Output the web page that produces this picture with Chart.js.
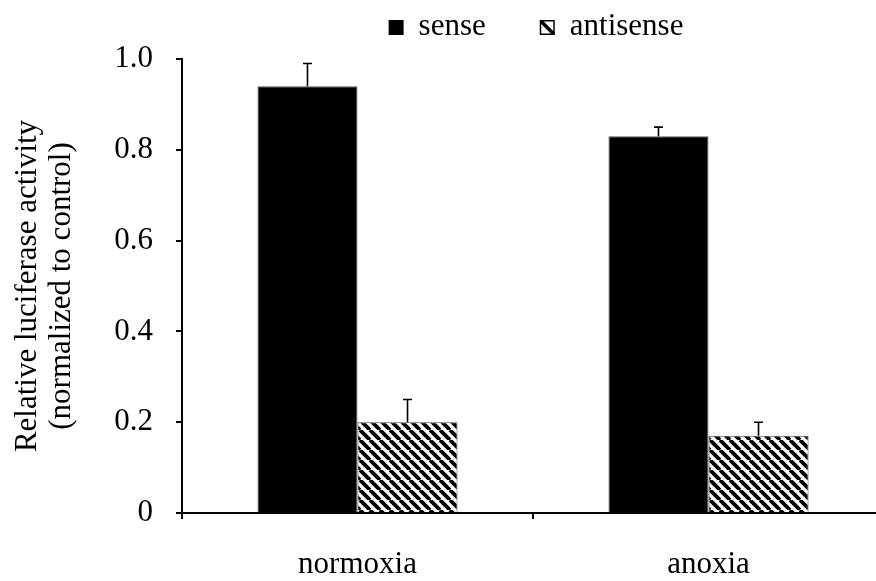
<!DOCTYPE html>
<html>
<head>
<meta charset="utf-8">
<script src="https://cdn.jsdelivr.net/npm/chart.js@4.4.1/dist/chart.umd.min.js"></script>
<style>
  html, body { margin: 0; padding: 0; background: #fff; overflow: hidden; width: 876px; height: 581px; }
  canvas { display: block; }
</style>
</head>
<body>
<canvas id="chart" width="886" height="581"></canvas>
<script>
// Data
const categories = ['normoxia', 'anoxia'];
const seriesNames = ['sense', 'antisense'];
const senseValues = [0.94, 0.83];
const senseErrors = [0.05, 0.02];
const antisenseValues = [0.20, 0.17];
const antisenseErrors = [0.05, 0.03];
const yTickValues = [0, 0.2, 0.4, 0.6, 0.8, 1.0];
const yTitleLines = ['Relative luciferase activity', '(normalized to control)'];

const FONT = '"Liberation Serif", "Times New Roman", Times, serif';

// Diagonal hatch fill for the antisense bars
function makeHatch() {
  const size = 10;
  const c = document.createElement('canvas');
  c.width = size; c.height = size;
  const g = c.getContext('2d');
  g.fillStyle = '#fff';
  g.fillRect(0, 0, size, size);
  g.strokeStyle = '#000';
  g.lineWidth = 3.8;
  g.beginPath();
  for (const k of [-size, 0, size]) {
    g.moveTo(k, 0);
    g.lineTo(k + size, size);
  }
  g.stroke();
  const ctx = document.getElementById('chart').getContext('2d');
  return ctx.createPattern(c, 'repeat');
}
const hatch = makeHatch();

// Error bars (upper whisker with cap)
const errorBarPlugin = {
  id: 'errorBars',
  afterDatasetsDraw(chart) {
    const ctx = chart.ctx;
    const y = chart.scales.y;
    ctx.save();
    ctx.strokeStyle = '#000';
    ctx.lineWidth = 1.6;
    chart.data.datasets.forEach((ds, di) => {
      const meta = chart.getDatasetMeta(di);
      meta.data.forEach((bar, i) => {
        const top = y.getPixelForValue(ds.data[i] + ds.errors[i]);
        ctx.beginPath();
        ctx.moveTo(bar.x, bar.y);
        ctx.lineTo(bar.x, top);
        ctx.moveTo(bar.x - 4.5, top);
        ctx.lineTo(bar.x + 4.5, top);
        ctx.stroke();
      });
    });
    ctx.restore();
  }
};

// Legend row above the plot
const legendPlugin = {
  id: 'topLegend',
  afterDraw(chart) {
    const ctx = chart.ctx;
    const box = 15, gapText = 15, gapItem = 54, baseline = 35;
    ctx.save();
    ctx.font = '31px ' + FONT;
    ctx.textBaseline = 'alphabetic';
    ctx.textAlign = 'left';
    const items = chart.data.datasets.map(ds => ({ ds, w: ctx.measureText(ds.label).width }));
    let total = 0;
    items.forEach((it, i) => { total += box + gapText + it.w + (i < items.length - 1 ? gapItem : 0); });
    const area = chart.chartArea;
    let x = (area.left + area.right) / 2 - total / 2 + 3;
    items.forEach((it, i) => {
      const bx = x, by = baseline - box;
      if (i === 0) {
        ctx.fillStyle = '#000';
        ctx.fillRect(bx, by, box, box);
      } else {
        ctx.fillStyle = '#fff';
        ctx.fillRect(bx, by, box, box);
        ctx.strokeStyle = '#000';
        ctx.lineWidth = 1.5;
        ctx.strokeRect(bx + 0.75, by + 0.75, box - 1.5, box - 1.5);
        ctx.lineWidth = 3.5;
        ctx.beginPath();
        ctx.moveTo(bx + 1, by + 1);
        ctx.lineTo(bx + box - 1, by + box - 1);
        ctx.stroke();
      }
      ctx.fillStyle = '#000';
      ctx.fillText(it.ds.label, bx + box + gapText, baseline);
      x += box + gapText + it.w + gapItem;
    });
    ctx.restore();
  }
};

new Chart(document.getElementById('chart'), {
  type: 'bar',
  data: {
    labels: categories,
    datasets: [
      {
        label: seriesNames[0],
        data: senseValues,
        errors: senseErrors,
        backgroundColor: '#000',
        borderColor: '#555',
        borderWidth: 1,
        barPercentage: 1,
        categoryPercentage: 0.57
      },
      {
        label: seriesNames[1],
        data: antisenseValues,
        errors: antisenseErrors,
        backgroundColor: hatch,
        borderColor: '#444',
        borderWidth: 1,
        barPercentage: 1,
        categoryPercentage: 0.57
      }
    ]
  },
  options: {
    responsive: false,
    animation: false,
    devicePixelRatio: 1,
    layout: { padding: { top: 59, right: 2, bottom: 0, left: 0 } },
    plugins: {
      legend: { display: false },
      tooltip: { enabled: false }
    },
    scales: {
      x: {
        type: 'category',
        offset: true,
        afterFit(scale) { scale.height = 68; },
        grid: {
          offset: true,
          drawOnChartArea: false,
          drawTicks: true,
          tickLength: 6,
          color: '#000',
          lineWidth: 2
        },
        border: { display: true, color: '#000', width: 2 },
        ticks: {
          color: '#000',
          padding: 27,
          font: { family: FONT, size: 31 }
        }
      },
      y: {
        min: 0,
        max: 1,
        afterFit(scale) { scale.width = 182; },
        afterBuildTicks(scale) { scale.ticks = yTickValues.map(v => ({ value: v })); },
        grid: {
          drawOnChartArea: false,
          drawTicks: true,
          tickLength: 6,
          color: '#000',
          lineWidth: 2
        },
        border: { display: true, color: '#000', width: 2 },
        ticks: {
          color: '#000',
          padding: 23,
          font: { family: FONT, size: 31 },
          callback: v => (v === 0 ? '0' : v.toFixed(1))
        },
        title: {
          display: true,
          text: yTitleLines,
          color: '#000',
          padding: { top: 11, bottom: 0 },
          font: { family: FONT, size: 31, lineHeight: 1.1 }
        }
      }
    }
  },
  plugins: [errorBarPlugin, legendPlugin]
});
</script>
</body>
</html>
